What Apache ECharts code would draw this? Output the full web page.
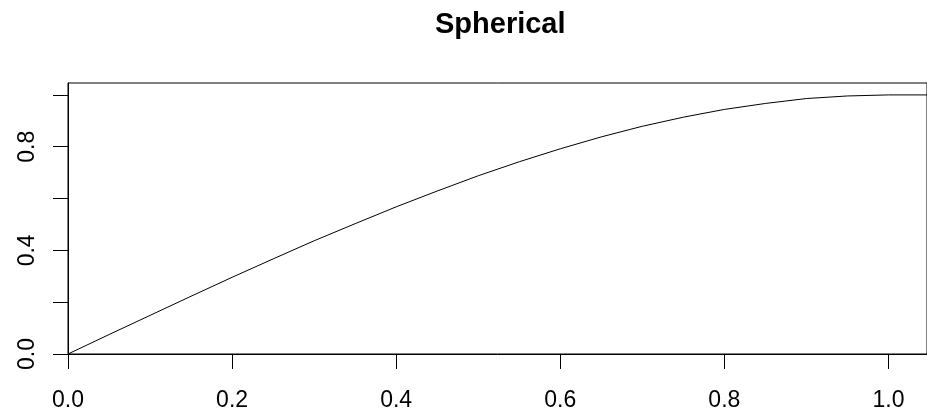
<!DOCTYPE html>
<html>
<head>
<meta charset="utf-8">
<script src="https://cdn.jsdelivr.net/npm/echarts@6/dist/echarts.min.js"></script>
<style>
html,body{margin:0;padding:0;background:#fff;}
#chart{width:927px;height:414px;}
</style>
</head>
<body>
<div id="chart"></div>
<script>
var titleText = 'Spherical';
var xValues = [0, 0.05, 0.1, 0.15, 0.2, 0.25, 0.3, 0.35, 0.4, 0.45, 0.5, 0.55, 0.6, 0.65, 0.7, 0.75, 0.8, 0.85, 0.9, 0.95, 1.0, 1.047];
var yValues = [0, 0.075, 0.149, 0.223, 0.296, 0.367, 0.437, 0.503, 0.568, 0.629, 0.688, 0.742, 0.792, 0.838, 0.879, 0.914, 0.944, 0.967, 0.986, 0.996, 1.0, 1.0];
var xTicks = [0, 0.2, 0.4, 0.6, 0.8, 1.0];
var yTicks = [0, 0.2, 0.4, 0.6, 0.8, 1.0];
var yLabels = [0, 0.4, 0.8];

var data = xValues.map(function (x, i) { return [x, yValues[i]]; });
var font = 'Liberation Sans, Arial, sans-serif';

var chart = echarts.init(document.getElementById('chart'), null, {renderer: 'canvas'});
chart.setOption({
  animation: false,
  backgroundColor: '#fff',
  title: {
    text: titleText,
    left: 435,
    top: 10,
    padding: 0,
    textStyle: {fontFamily: font, fontSize: 29, fontWeight: 'bold', color: '#000'}
  },
  grid: {
    left: 68, top: 83, width: 865, bottom: 60,
    show: true, borderColor: '#000', borderWidth: 1, backgroundColor: 'transparent',
    containLabel: false
  },
  xAxis: {
    type: 'value', min: 0, max: 1.047,
    splitLine: {show: false},
    axisLine: {show: true, lineStyle: {color: '#000', width: 1}},
    axisTick: {show: true, length: 15, lineStyle: {color: '#000', width: 1}, customValues: xTicks},
    axisLabel: {
      customValues: xTicks,
      margin: 35, color: '#000', fontFamily: font, fontSize: 23,
      formatter: function (v) { return v.toFixed(1); }
    }
  },
  yAxis: {
    type: 'value', min: 0, max: 1.046,
    splitLine: {show: false},
    axisLine: {show: true, lineStyle: {color: '#000', width: 1}},
    axisTick: {show: true, length: 15, lineStyle: {color: '#000', width: 1}, customValues: yTicks},
    axisLabel: {
      customValues: yLabels,
      rotate: 90, margin: 29, color: '#000', fontFamily: font, fontSize: 23,
      formatter: function (v) { return v.toFixed(1); }
    }
  },
  series: [{
    type: 'line',
    data: data,
    showSymbol: false,
    lineStyle: {color: '#000', width: 1},
    clip: true
  }]
});
</script>
</body>
</html>
